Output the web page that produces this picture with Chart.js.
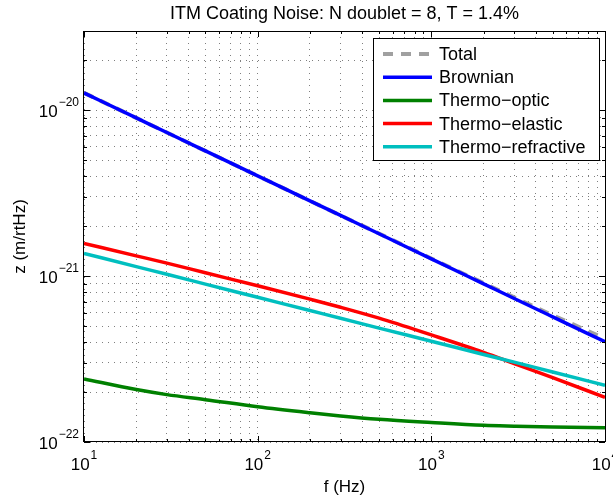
<!DOCTYPE html>
<html>
<head>
<meta charset="utf-8">
<script src="https://cdn.jsdelivr.net/npm/chart.js@4.4.1/dist/chart.umd.min.js"></script>
<style>
  html, body { margin: 0; padding: 0; background: #fff; }
</style>
</head>
<body>
<canvas id="chart" width="613" height="502"></canvas>
<script>
// values (frequency in Hz, noise in m/rtHz)
const freqs       = [10, 20, 30, 50, 100, 200, 300, 500, 1000, 2000, 3000, 5000, 10000]
const total       = [1.272e-20, 8.98e-21, 7.33e-21, 5.68e-21, 4.02e-21, 2.84e-21, 2.32e-21, 1.805e-21, 1.277e-21, 9.07e-22, 7.44e-22, 5.81e-22, 4.2e-22]
const brownian    = [1.27e-20, 8.98e-21, 7.33e-21, 5.68e-21, 4.02e-21, 2.84e-21, 2.32e-21, 1.80e-21, 1.27e-21, 8.98e-22, 7.33e-22, 5.68e-22, 4.02e-22]
const thermoOptic = [2.4e-22, 2.07e-22, 1.93e-22, 1.80e-22, 1.63e-22, 1.50e-22, 1.435e-22, 1.37e-22, 1.31e-22, 1.26e-22, 1.245e-22, 1.23e-22, 1.22e-22]
const thermoElastic = [1.574e-21, 1.324e-21, 1.197e-21, 1.047e-21, 8.75e-22, 7.26e-22, 6.49e-22, 5.58e-22, 4.42e-22, 3.47e-22, 2.97e-22, 2.44e-22, 1.86e-22]
const thermoRefractive = [1.37e-21, 1.14e-21, 1.025e-21, 8.95e-22, 7.45e-22, 6.2e-22, 5.57e-22, 4.86e-22, 4.05e-22, 3.37e-22, 3.03e-22, 2.64e-22, 2.2e-22]

const seriesNames  = ["Total", "Brownian", "Thermo\u2212optic", "Thermo\u2212elastic", "Thermo\u2212refractive"]
const seriesColors = ["#a0a0a0", "#0000ff", "#008000", "#ff0000", "#00bfbf"]

// ticks: decades with minor steps 2..9
const xTickExp = [1, 2, 3, 4]
const yTickExp = [-22, -21, -20]
const minorSteps = [1, 2, 3, 4, 5, 6, 7, 8, 9]
const xMin = 10, xMax = 10000
const yMin = 1e-22, yMax = 3e-20

const FONT = '"Liberation Sans", Arial, Helvetica, sans-serif'

function decadeTicks(exps, min, max) {
  const out = []
  exps.forEach(e => minorSteps.forEach(m => {
    const v = m * Math.pow(10, e)
    if (v >= min * 0.999 && v <= max * 1.001) out.push(v)
  }))
  return out
}
const xTicks = decadeTicks(xTickExp, xMin, xMax)
const yTicks = decadeTicks(yTickExp, yMin, yMax)

function points(values) {
  return freqs.map((f, i) => ({ x: f, y: values[i] }))
}

const allSeries = [total, brownian, thermoOptic, thermoElastic, thermoRefractive]

const datasets = allSeries.map((vals, i) => ({
  label: seriesNames[i],
  data: points(vals),
  borderColor: seriesColors[i],
  borderWidth: i === 0 ? 4 : 3.5,
  borderDash: i === 0 ? [10, 8] : [],
  pointRadius: 0,
  cubicInterpolationMode: "monotone",
  fill: false,
  order: allSeries.length - i
}))

function drawPow(ctx, x, y, exp, align) {
  const expText = String(exp).replace("-", "\u2212")
  ctx.font = "17px " + FONT
  const wBase = ctx.measureText("10").width
  ctx.font = "12px " + FONT
  const wExp = ctx.measureText(expText).width
  const w = wBase + wExp + 1
  let start = align === "right" ? x - w : x - w / 2
  ctx.textAlign = "left"
  ctx.textBaseline = "middle"
  ctx.fillStyle = "#000"
  ctx.font = "17px " + FONT
  ctx.fillText("10", start, y)
  ctx.font = "12px " + FONT
  ctx.fillText(expText, start + wBase + 1, y - 9)
}

const decor = {
  id: "decor",
  afterDraw(chart) {
    const { ctx, chartArea: a, scales: { x, y } } = chart
    ctx.save()
    ctx.strokeStyle = "#000"
    ctx.lineWidth = 1

    // inward tick marks on all four sides
    ctx.beginPath()
    x.ticks.forEach(t => {
      const px = Math.round(x.getPixelForValue(t.value)) + 0.5
      const len = xTickExp.some(e => Math.abs(t.value - Math.pow(10, e)) < 1e-9) ? 6 : 3
      ctx.moveTo(px, a.bottom); ctx.lineTo(px, a.bottom - len)
      ctx.moveTo(px, a.top); ctx.lineTo(px, a.top + len)
    })
    y.ticks.forEach(t => {
      const py = Math.round(y.getPixelForValue(t.value)) + 0.5
      const major = yTickExp.some(e => Math.abs(t.value / Math.pow(10, e) - 1) < 1e-6)
      const len = major ? 6 : 3
      ctx.moveTo(a.left, py); ctx.lineTo(a.left + len, py)
      ctx.moveTo(a.right, py); ctx.lineTo(a.right - len, py)
    })
    ctx.stroke()

    // axes box
    ctx.strokeRect(Math.round(a.left) - 0.5, Math.round(a.top) + 0.5,
      Math.round(a.right - a.left) + 1, Math.round(a.bottom - a.top) - 1)

    // tick labels
    xTickExp.forEach(e => drawPow(ctx, x.getPixelForValue(Math.pow(10, e)), 465, e, "center"))
    yTickExp.forEach(e => drawPow(ctx, 79, y.getPixelForValue(Math.pow(10, e)) + 2, e, "right"))

    // title and axis labels
    ctx.fillStyle = "#000"
    ctx.textAlign = "center"
    ctx.textBaseline = "middle"
    ctx.font = "18px " + FONT
    ctx.fillText("ITM Coating Noise: N doublet = 8, T = 1.4%", (a.left + a.right) / 2, 14)
    ctx.font = "17px " + FONT
    ctx.fillText("f (Hz)", (a.left + a.right) / 2, 487)
    ctx.save()
    ctx.translate(20, (a.top + a.bottom) / 2)
    ctx.rotate(-Math.PI / 2)
    ctx.fillText("z (m/rtHz)", 0, 0)
    ctx.restore()

    // legend
    const lx = 373.5, ly = 38.5, lw = 226, lh = 122
    ctx.fillStyle = "#fff"
    ctx.fillRect(lx, ly, lw, lh)
    ctx.strokeStyle = "#000"
    ctx.lineWidth = 1
    ctx.strokeRect(lx, ly, lw, lh)
    chart.data.datasets.forEach((ds, i) => {
      const yy = 54 + i * 23.2
      ctx.beginPath()
      ctx.strokeStyle = ds.borderColor
      ctx.lineWidth = ds.borderWidth
      ctx.setLineDash(ds.borderDash)
      ctx.moveTo(383, yy)
      ctx.lineTo(432, yy)
      ctx.stroke()
      ctx.setLineDash([])
      ctx.fillStyle = "#000"
      ctx.font = "18px " + FONT
      ctx.textAlign = "left"
      ctx.textBaseline = "middle"
      ctx.fillText(ds.label, 439, yy + 1)
    })
    ctx.restore()
  }
}

const gridOpts = { color: "rgba(0,0,0,0.5)", lineWidth: 1, drawTicks: false }

new Chart(document.getElementById("chart").getContext("2d"), {
  type: "line",
  data: { datasets: datasets },
  options: {
    responsive: false,
    animation: false,
    events: [],
    layout: { padding: { top: 31, right: 8, left: 0, bottom: 0 } },
    plugins: { legend: { display: false }, tooltip: { enabled: false }, title: { display: false } },
    scales: {
      x: {
        type: "logarithmic",
        min: xMin,
        max: xMax,
        ticks: { display: false, autoSkip: false },
        grid: gridOpts,
        border: { display: false, dash: [1, 5] },
        afterBuildTicks: s => { s.ticks = xTicks.map(v => ({ value: v })) },
        afterFit: s => { s.height = 60 }
      },
      y: {
        type: "logarithmic",
        min: yMin,
        max: yMax,
        ticks: { display: false, autoSkip: false },
        grid: gridOpts,
        border: { display: false, dash: [1, 5] },
        afterBuildTicks: s => { s.ticks = yTicks.map(v => ({ value: v })) },
        afterFit: s => { s.width = 84 }
      }
    }
  },
  plugins: [decor]
})
</script>
</body>
</html>
